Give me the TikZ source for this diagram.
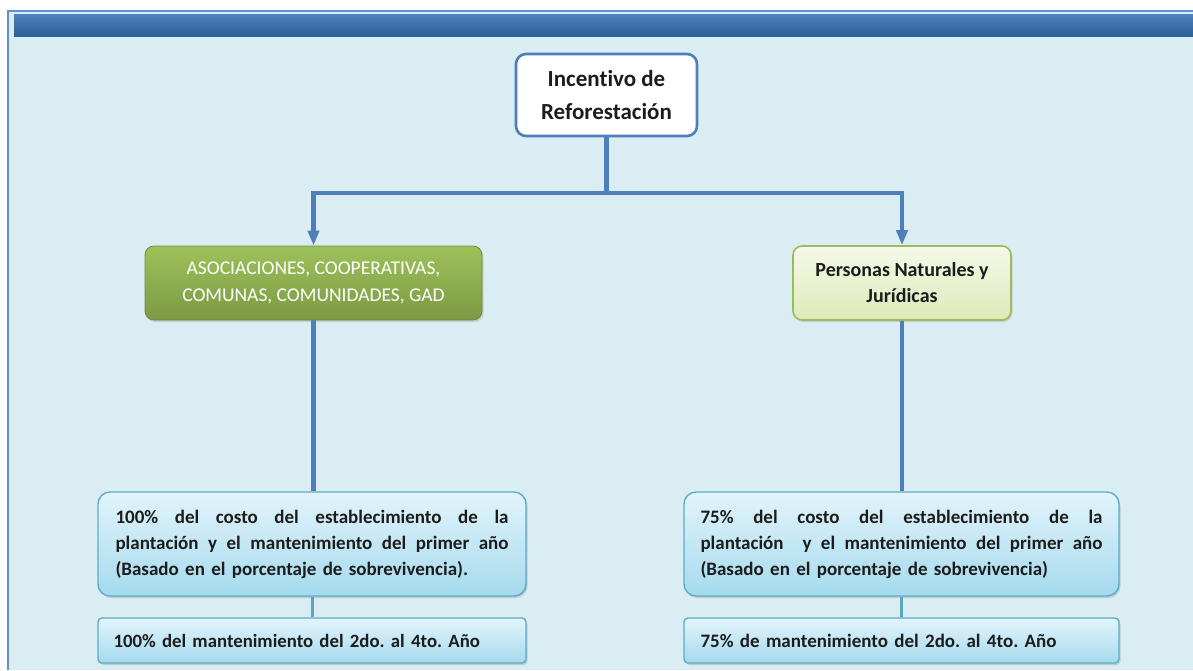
\documentclass[tikz,border=0pt]{standalone}
\usepackage{fontspec}
\setmainfont[Ligatures=NoCommon]{Carlito}
\usetikzlibrary{arrows.meta,shadows}
\definecolor{bg}{HTML}{DAEDF3}
\definecolor{frameblue}{HTML}{5F8FCC}
\definecolor{bartop}{HTML}{4F82C0}
\definecolor{barbot}{HTML}{2F5E96}
\definecolor{conn}{HTML}{4F7FBB}
\definecolor{teal}{HTML}{5BA7C2}
\definecolor{gtop}{HTML}{9DC15A}
\definecolor{gbot}{HTML}{7C9A44}
\definecolor{lgtop}{HTML}{F5F9EA}
\definecolor{lgbot}{HTML}{DDEAB8}
\definecolor{lgborder}{HTML}{9DBB5C}
\definecolor{btop}{HTML}{E2F4FB}
\definecolor{bbot}{HTML}{A5DAEE}
\definecolor{bborder}{HTML}{5DACC8}
\definecolor{txt}{HTML}{1C1C1C}
\frenchspacing
\newcommand\jl[2]{\leavevmode\hbox to #1{\spaceskip=.22em plus 1fil\xspaceskip=.22em plus 1fil\relax #2}}
\tikzset{
  conn/.style={draw=conn, line width=4.6pt},
  tip/.style={-{Triangle[width=11pt,length=15pt]}},
  topbox/.style={draw=conn, line width=2.6pt, fill=white, rounded corners=10pt,
    minimum width=181pt, minimum height=82pt, align=center, text=txt,
    font=\fontsize{23}{33}\selectfont\bfseries},
  greenbox/.style={draw=gbot!90!black, line width=0.8pt, rounded corners=9pt,
    top color=gtop, bottom color=gbot, minimum width=337pt, minimum height=74pt,
    align=center, text=white, font=\fontsize{19.5}{27}\selectfont,
    drop shadow={shadow xshift=1.5pt, shadow yshift=-2pt, opacity=.25}},
  lgbox/.style={draw=lgborder, line width=1.6pt, rounded corners=9pt,
    top color=lgtop, bottom color=lgbot, minimum width=218pt, minimum height=74pt,
    align=center, text=txt, font=\fontsize{20}{26}\selectfont\bfseries,
    drop shadow={shadow xshift=1.5pt, shadow yshift=-2pt, opacity=.25}},
  bluebox/.style={draw=bborder, line width=1.4pt, rounded corners=12pt,
    top color=btop, bottom color=bbot, align=left, text=txt,
    font=\fontsize{19}{26}\selectfont\bfseries,
    drop shadow={shadow xshift=1.5pt, shadow yshift=-2pt, opacity=.3}},
  smallbox/.style={bluebox, rounded corners=4pt}
}
\begin{document}
\begin{tikzpicture}[x=1pt,y=-1pt]
\useasboundingbox (0,0) rectangle (1193,670);
\fill[white] (0,0) rectangle (1193,670);
\fill[bg] (7,10) rectangle (1193,670);
\draw[frameblue, line width=2.2pt] (8,670) -- (8,11) -- (1193,11);
\shade[top color=bartop, bottom color=barbot] (14,14) rectangle (1193,36);

\node[topbox] (top) at (606.5,95) {Incentivo de\\Reforestación};
\node[greenbox] (lg) at (313.5,283) {ASOCIACIONES, COOPERATIVAS,\\COMUNAS, COMUNIDADES, GAD};
\node[lgbox] (rg) at (902,283) {Personas Naturales y\\Jurídicas};

\node[bluebox, minimum width=428pt, minimum height=104pt, text width=393pt] (lb) at (312,544)
  {\jl{393pt}{100\% del costo del establecimiento de la}\\
   \jl{393pt}{plantación y el mantenimiento del primer año}\\
   (Basado en el porcentaje de sobrevivencia).};
\node[smallbox, minimum width=428pt, minimum height=45pt, text width=397pt,
  font=\fontsize{18.8}{26}\selectfont\bfseries] (ls) at (312,640.5)
  {100\% del mantenimiento del 2do. al 4to. Año};

\node[bluebox, minimum width=435pt, minimum height=104pt, text width=402pt] (rb) at (901.5,544)
  {\jl{402pt}{75\% del costo del establecimiento de la}\\
   \jl{402pt}{plantación \ y el mantenimiento del primer año}\\
   (Basado en el porcentaje de sobrevivencia)};
\node[smallbox, minimum width=435pt, minimum height=45pt, text width=402pt] (rs) at (901.5,640.5)
  {75\% de mantenimiento del 2do. al 4to. Año};

\coordinate (hy) at (0,193);
\draw[conn] (top.south) -- (top.south |- hy);
\draw[conn, tip] (top.south |- hy) -| (lg.north);
\draw[conn, tip] (top.south |- hy) -| (rg.north);
\draw[conn] (lg.south) -- (lg.south |- lb.north);
\draw[conn] (rg.south) -- (rg.south |- rb.north);
\draw[teal, line width=3pt] (lb.south) -- (ls.north);
\draw[teal, line width=3.5pt] (rb.south) -- (rs.north);
\end{tikzpicture}
\end{document}
